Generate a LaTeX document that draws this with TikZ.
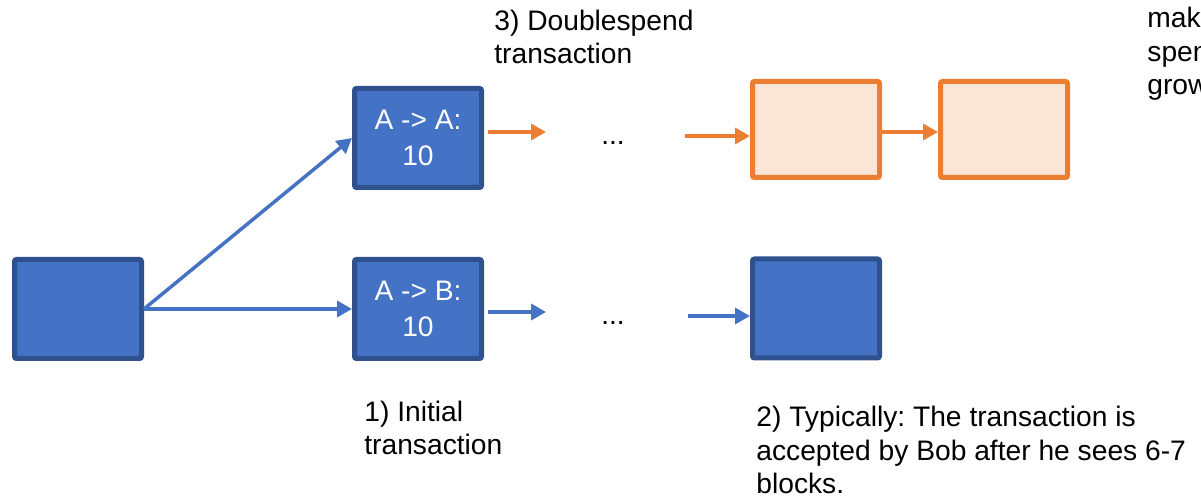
\documentclass[tikz,border=0pt]{standalone}
\usepackage{fontspec}
\setmainfont{Liberation Sans}
\usetikzlibrary{arrows.meta}
\frenchspacing
\definecolor{blkfill}{HTML}{4472C4}
\definecolor{blkline}{HTML}{2F528F}
\definecolor{orgfill}{HTML}{FBE5D6}
\definecolor{orgline}{HTML}{ED7D31}
\tikzset{
  blk/.style={draw=blkline, fill=blkfill, line width=2.5pt, rounded corners=1pt,
    minimum width=63.5pt, minimum height=49.5pt, inner sep=0pt,
    text=white, align=center, font=\fontsize{14.1}{18}\selectfont},
  orgblk/.style={blk, draw=orgline, fill=orgfill, minimum height=48pt},
  link/.style={line width=1.75pt, -{Triangle[length=7.5pt,width=8pt]}},
  bluelink/.style={link, blkfill},
  orglink/.style={link, orgline},
  % multi-line notes are placed by the baseline of their last line
  note/.style={anchor=base west, inner sep=0pt, align=left,
    font=\fontsize{14.1}{16.75}\selectfont},
  dots/.style={anchor=base, inner sep=0pt, font=\fontsize{14}{16.5}\selectfont}
}
\begin{document}
\begin{tikzpicture}[x=0.5pt, y=-0.5pt]
\useasboundingbox (0,0) rectangle (1201,502);
\begin{scope}
\clip (0,0) rectangle (1201,502);

% blocks
\node[blk] (root) at (78,309) {};
\node[blk] (dbl)  at (418,138) {A -> A:\\10};
\node[blk] (pay)  at (418,309) {A -> B:\\10};
\node[orgblk] (att1) at (816,129.5) {};
\node[orgblk] (att2) at (1004,129.5) {};
\node[blk] (hon)  at (816,308.5) {};

% elided parts of the two chains
\node[dots] (dtop) at (613,145) {...};
\node[dots] (dbot) at (613,325) {...};

% loose arrow ends next to the dots
\coordinate (ta) at (488,132);
\coordinate (tb) at (546,132);
\coordinate (tc) at (685,136);
\coordinate (ba) at (488,312);
\coordinate (bb) at (546,312);
\coordinate (bc) at (688,316);

% connectors
\draw[bluelink] (root.east) -- (dbl.west);
\draw[bluelink] (root.east) -- (pay.west);
\draw[orglink] (ta) -- (tb);
\draw[orglink] (tc) -- (att1.west |- tc);
\draw[orglink] (att1.east |- 0,132) -- (att2.west |- 0,132);
\draw[bluelink] (ba) -- (bb);
\draw[bluelink] (bc) -- (hon.west |- bc);

% annotations
\node[note] (n3) at (494,64) {3) Doublespend\\transaction};
\node[note] (n1) at (364,455) {1) Initial\\transaction};
\node[note] (n2) at (756,494) {2) Typically: The transaction is\\accepted by Bob after he sees 6-7\\blocks.};
\node[note] (n4) at (1147,95) {makes\\spend\\grow};
\end{scope}
\end{tikzpicture}
\end{document}
